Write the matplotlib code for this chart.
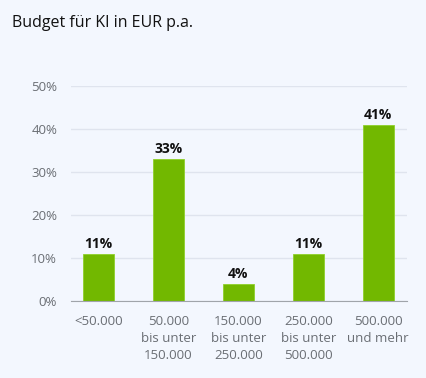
import matplotlib.pyplot as plt

plt.rcParams['font.family'] = ['Open Sans', 'DejaVu Sans']

categories = ['<50.000', '50.000\nbis unter\n150.000', '150.000\nbis unter\n250.000',
              '250.000\nbis unter\n500.000', '500.000\nund mehr']
values = [11, 33, 4, 11, 41]
yticks = [0, 10, 20, 30, 40, 50]

bg = '#f3f7fe'
fig = plt.figure(figsize=(4.26, 3.78), dpi=100, facecolor=bg)
ax = fig.add_axes([0.1667, 0.2037, 0.7887, 0.5688], facecolor=bg)

x = range(len(categories))
bars = ax.bar(x, values, width=0.44, color='#72b800', edgecolor='#8fd12a', linewidth=0.6, zorder=3)
for b, v in zip(bars, values):
    ax.annotate(f'{v}%', (b.get_x() + b.get_width() / 2, v), xytext=(0, 2),
                textcoords='offset points', ha='center', va='bottom',
                fontsize=10, fontweight='bold', color='#111111')

ax.set_xlim(-0.39, 4.41)
ax.set_ylim(0, 50)
ax.set_yticks(yticks)
ax.set_yticklabels([f'{t}%' for t in yticks])
ax.set_xticks(list(x))
ax.set_xticklabels(categories, linespacing=1.4)
ax.grid(axis='y', color='#dfe4ee', linewidth=1, zorder=0)
for s in ['top', 'right', 'left']:
    ax.spines[s].set_visible(False)
ax.spines['bottom'].set_color('#a0a4aa')
ax.spines['bottom'].set_zorder(4)
ax.tick_params(axis='both', length=0, labelsize=9.5, colors='#6a6e74')
ax.tick_params(axis='y', pad=10)
ax.tick_params(axis='x', pad=10)

fig.text(0.028, 0.94, 'Budget für KI in EUR p.a.', fontsize=11.5, color='#111111', va='center', ha='left')

fig.savefig('out.png', dpi=100, facecolor=bg)
